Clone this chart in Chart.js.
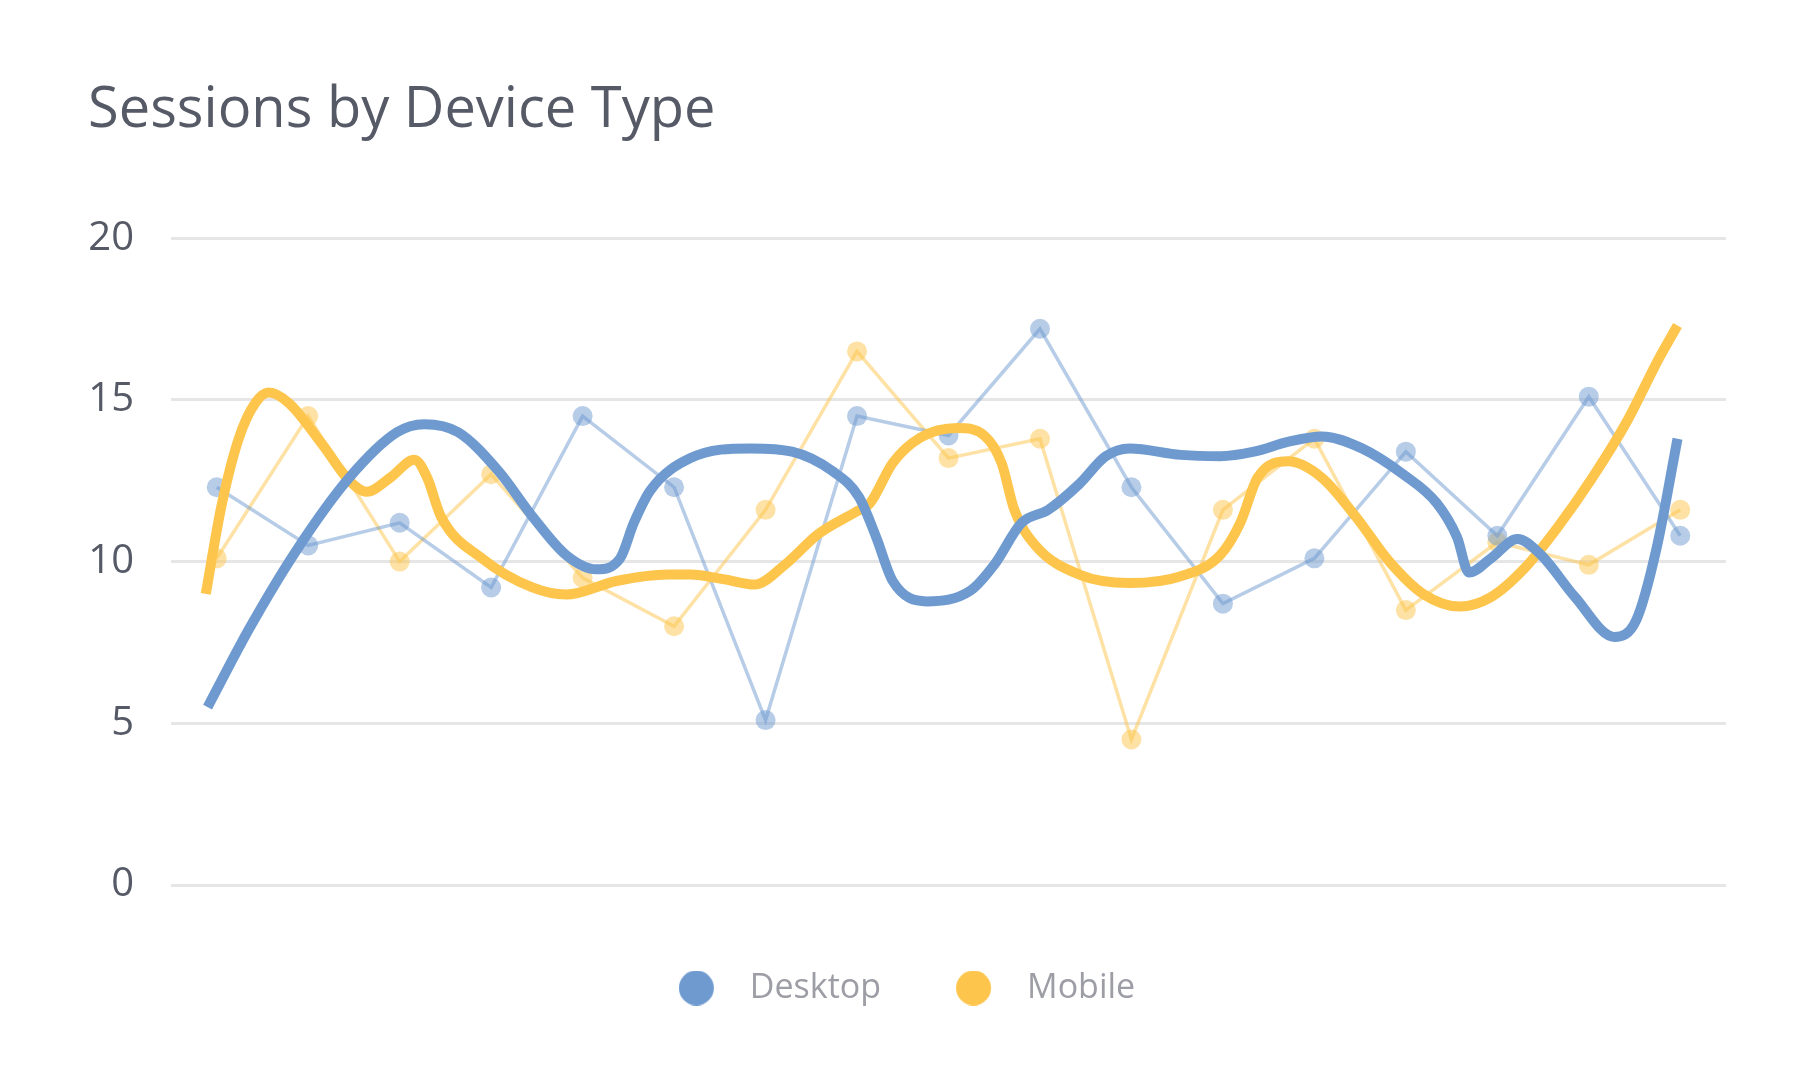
<!DOCTYPE html>
<html>
<head>
<meta charset="utf-8">
<script src="https://cdn.jsdelivr.net/npm/chart.js@4.4.0/dist/chart.umd.min.js"></script>
<style>
  html, body { margin: 0; padding: 0; background: #fff; }
  #wrap { width: 1814px; height: 1080px; }
</style>
</head>
<body>
<div id="wrap"><canvas id="myChart" width="1814" height="1080"></canvas></div>
<script>
// 17 periods, x axis labels are not shown in the picture
const days = ['1', '2', '3', '4', '5', '6', '7', '8', '9', '10', '11', '12', '13', '14', '15', '16', '17'];

// raw sessions (thin lines with dots)
const desktopSessions = [12.3, 10.5, 11.2, 9.2, 14.5, 12.3, 5.1, 14.5, 13.9, 17.2, 12.3, 8.7, 10.1, 13.4, 10.8, 15.1, 10.8];
const mobileSessions = [10.1, 14.5, 10.0, 12.7, 9.5, 8.0, 11.6, 16.5, 13.2, 13.8, 4.5, 11.6, 13.8, 8.5, 10.6, 9.9, 11.6];

// smoothed trend (thick lines), x in period index units
const desktopTrendX = [-0.1, 0.35, 0.86, 1.45, 1.97, 2.27, 2.64, 3.08, 3.45, 3.82, 4.15, 4.41, 4.56, 4.74, 5.18, 5.84, 6.29, 6.73, 7.02, 7.21, 7.39, 7.76, 8.24, 8.5, 8.8, 9.09, 9.43, 9.72, 9.98, 10.54, 10.97, 11.34, 11.71, 12.08, 12.52, 12.97, 13.34, 13.56, 13.69, 13.93, 14.22, 14.48, 14.85, 15.28, 15.52, 15.74, 15.97];
const desktopTrend = [5.5, 7.9, 10.3, 12.6, 14.0, 14.25, 14.0, 12.8, 11.4, 10.2, 9.76, 10.1, 11.2, 12.2, 13.2, 13.5, 13.4, 12.8, 12.0, 10.75, 9.4, 8.77, 9.1, 9.9, 11.2, 11.6, 12.4, 13.26, 13.5, 13.3, 13.26, 13.4, 13.7, 13.87, 13.5, 12.7, 11.8, 10.75, 9.66, 10.1, 10.7, 10.2, 8.9, 7.67, 8.2, 10.4, 13.8];

const mobileTrendX = [-0.12, 0.05, 0.24, 0.42, 0.57, 0.79, 1.16, 1.45, 1.64, 1.9, 2.16, 2.3, 2.45, 2.9, 3.45, 3.82, 4.37, 4.93, 5.18, 5.55, 5.88, 6.21, 6.58, 6.99, 7.14, 7.39, 7.69, 8.1, 8.39, 8.58, 8.72, 8.95, 9.43, 9.98, 10.54, 10.97, 11.19, 11.38, 11.71, 12.08, 12.45, 12.82, 13.19, 13.59, 13.93, 14.3, 14.67, 15.04, 15.41, 15.77, 15.97];
const mobileTrend = [9.0, 11.7, 13.8, 14.9, 15.23, 14.9, 13.6, 12.5, 12.16, 12.6, 13.15, 12.6, 11.4, 10.1, 9.2, 8.98, 9.4, 9.6, 9.6, 9.45, 9.29, 9.9, 10.86, 11.54, 11.8, 13.05, 13.83, 14.13, 13.9, 13.05, 11.6, 10.5, 9.6, 9.34, 9.55, 10.2, 11.2, 12.6, 13.1, 12.6, 11.4, 10.0, 9.0, 8.61, 8.9, 9.8, 11.1, 12.6, 14.3, 16.3, 17.3];

const yTicks = [0, 5, 10, 15, 20];

const blue = '#6e9ad0';
const yellow = '#fdc54c';
const blueFaint = 'rgba(110,154,208,0.5)';
const yellowFaint = 'rgba(253,197,76,0.5)';

// legend marker: circle at the left of a wider blank box
function legendDot(color) {
  const c = document.createElement('canvas');
  c.width = 54;
  c.height = 35;
  const g = c.getContext('2d');
  g.fillStyle = color;
  g.beginPath();
  g.arc(17.5, 17.5, 17.5, 0, Math.PI * 2);
  g.fill();
  return c;
}

const toPoints = (xs, ys) => xs.map((x, i) => ({x: x, y: ys[i]}));

const ctx = document.getElementById('myChart').getContext('2d');

new Chart(ctx, {
  type: 'line',
  data: {
    labels: days,
    datasets: [
      {
        label: 'Desktop',
        data: toPoints(desktopTrendX, desktopTrend),
        xAxisID: 'x2',
        borderColor: blue,
        backgroundColor: blue,
        borderWidth: 10,
        pointRadius: 0,
        pointStyle: legendDot(blue),
        cubicInterpolationMode: 'monotone',
        order: 0
      },
      {
        label: 'Mobile',
        data: toPoints(mobileTrendX, mobileTrend),
        xAxisID: 'x2',
        borderColor: yellow,
        backgroundColor: yellow,
        borderWidth: 10,
        pointRadius: 0,
        pointStyle: legendDot(yellow),
        cubicInterpolationMode: 'monotone',
        order: 0
      },
      {
        label: 'Desktop sessions',
        hideInLegend: true,
        data: desktopSessions,
        xAxisID: 'x',
        borderColor: blueFaint,
        backgroundColor: blueFaint,
        borderWidth: 3.5,
        pointRadius: 10,
        pointBorderWidth: 0,
        tension: 0,
        order: 1
      },
      {
        label: 'Mobile sessions',
        hideInLegend: true,
        data: mobileSessions,
        xAxisID: 'x',
        borderColor: yellowFaint,
        backgroundColor: yellowFaint,
        borderWidth: 3.5,
        pointRadius: 10,
        pointBorderWidth: 0,
        tension: 0,
        order: 1
      }
    ]
  },
  options: {
    responsive: false,
    animation: false,
    events: [],
    layout: {
      padding: {top: 0, left: 88, right: 88, bottom: 65}
    },
    scales: {
      x: {
        type: 'category',
        offset: true,
        display: true,
        grid: {display: false},
        border: {display: false},
        ticks: {display: false},
        afterFit: s => { s.height = 11; }   // gap between plot and legend
      },
      x2: {
        type: 'linear',
        min: -0.5,
        max: days.length - 0.5,
        display: false
      },
      y: {
        min: 0,
        max: 20,
        afterBuildTicks: axis => { axis.ticks = yTicks.map(v => ({value: v})); },
        afterFit: s => { s.width = 83; },
        border: {display: false},
        grid: {color: '#e6e6e6', lineWidth: 3, drawTicks: false},
        ticks: {
          padding: 37,
          color: '#565a66',
          font: {family: 'Open Sans', size: 40}
        }
      }
    },
    plugins: {
      title: {
        display: true,
        text: 'Sessions by Device Type',
        align: 'start',
        color: '#565a66',
        font: {family: 'Open Sans', size: 56, weight: 'normal'},
        padding: {top: 77, bottom: 94}
      },
      legend: {
        position: 'bottom',
        labels: {
          usePointStyle: true,
          pointStyleWidth: 54,
          padding: 75,
          color: '#9d9ea5',
          font: {family: 'Open Sans', size: 34},
          filter: (item, data) => !data.datasets[item.datasetIndex].hideInLegend
        }
      },
      tooltip: {enabled: false}
    }
  }
});
</script>
</body>
</html>
